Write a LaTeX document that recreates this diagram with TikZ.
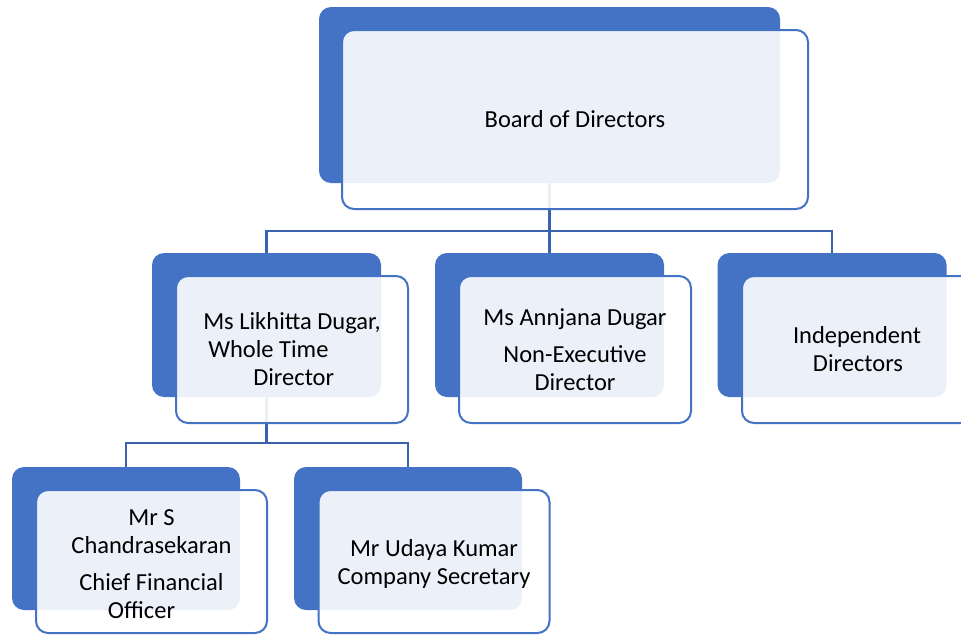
\documentclass[tikz,border=0pt]{standalone}
\usepackage{fontspec}
\setmainfont{Carlito}
\definecolor{accent}{HTML}{4472C4}
\definecolor{linec}{HTML}{3B63AD}
\pgfdeclarelayer{bg}\pgfsetlayers{bg,main}
\begin{document}
\begin{tikzpicture}[x=1pt,y=-1pt,
  backbox/.style={fill=accent, rounded corners=12pt, inner sep=0pt,
    minimum width=229pt, minimum height=144pt},
  frontbox/.style={draw=accent, line width=2pt, fill=white, fill opacity=0.9,
    draw opacity=1, text opacity=1, text=black, rounded corners=12pt, inner sep=0pt,
    minimum width=232pt, minimum height=147pt, align=center,
    font=\fontsize{24.5}{28}\selectfont},
  conn/.style={draw=linec, line width=2.2pt}]
\useasboundingbox (0,0) rectangle (961,635);
\clip (0,0) rectangle (961,635);
% Board
\node[backbox, minimum width=461pt, minimum height=176pt] (bodb) at (549.5,95) {};
\node[frontbox, minimum width=466pt, minimum height=179pt] (bod) at (575,119.5) {Board of Directors};
% level 2
\node[backbox] (likb) at (266.5,325) {};
\node[frontbox, align=left] (lik) at (292,349.5) {Ms Likhitta Dugar,\\\hspace*{5pt}Whole Time\\\hspace*{50pt}Director};
\node[backbox] (annb) at (549.5,325) {};
\node[frontbox] (ann) at (575,349.5) {Ms Annjana Dugar\\[9pt]Non-Executive\\Director};
\node[backbox] (indb) at (832,325) {};
\node[frontbox] (ind) at (858,349.5) {\hspace*{-2pt}Independent\\Directors};
% level 3
\node[backbox, minimum width=228pt, minimum height=143pt] (cfob) at (126,538.5) {};
\node[frontbox, minimum width=231pt, minimum height=143pt] (cfo) at (151.5,561.5) {\\[-6pt]Mr S\\Chandrasekaran\\[9pt]Chief Financial\\Officer\hspace*{20pt}};
\node[backbox, minimum width=228pt, minimum height=143pt] (csb) at (408,538.5) {};
\node[frontbox, minimum width=231pt, minimum height=143pt] (cs) at (434,561.5) {\\[-6pt]Mr Udaya Kumar\\Company Secretary};
% connectors
\coordinate (bus1) at (549.5,231);
\coordinate (bus2) at (266.5,443);
\begin{pgfonlayer}{bg}
\draw[conn] (bodb.south) -- (bus1);
\draw[conn] (likb.north) |- (bus1) -| (indb.north);
\draw[conn] (bus1) -- (annb.north);
\draw[conn] (likb.south) -- (bus2);
\draw[conn] (cfob.north) |- (bus2) -| (csb.north);
\end{pgfonlayer}
\end{tikzpicture}
\end{document}
